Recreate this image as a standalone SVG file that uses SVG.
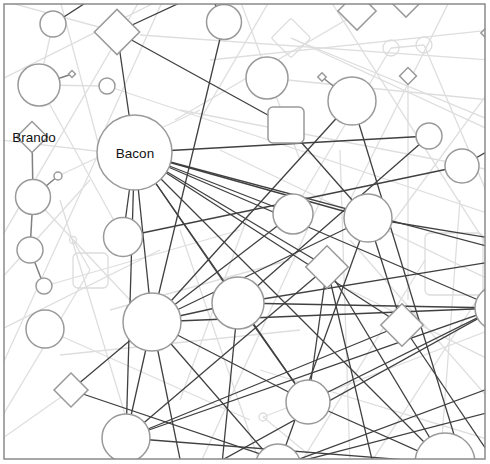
<svg xmlns="http://www.w3.org/2000/svg" width="490" height="464" viewBox="0 0 490 464">
<style>
.n{fill:#fff;stroke:#9a9a9a;stroke-width:1.5}
.ln{fill:none;stroke:#dcdcdc;stroke-width:1.3}
.d line{stroke:#404040;stroke-width:1.3}
.l line{stroke:#dedede;stroke-width:1.3}
.g line{stroke:#808080;stroke-width:1.5}
text{font-family:"Liberation Sans",Arial,sans-serif;font-size:13.5px;fill:#111;text-anchor:middle}
</style>
<defs>
<clipPath id="cp"><rect x="4" y="4" width="481" height="455"/></clipPath>
</defs>
<rect x="0" y="0" width="490" height="464" fill="#fff"/>
<g clip-path="url(#cp)">
<g id="light-connectors" class="l">
<line x1="53" y1="24" x2="39" y2="85"/>
<line x1="39" y1="85" x2="107" y2="86"/>
<line x1="107" y1="86" x2="490" y2="214"/>
<line x1="60" y1="0" x2="100" y2="150"/>
<line x1="163" y1="0" x2="97" y2="147"/>
<line x1="117" y1="32" x2="0" y2="0"/>
<line x1="140" y1="35" x2="490" y2="60"/>
<line x1="0" y1="80" x2="160" y2="0"/>
<line x1="39" y1="85" x2="123" y2="237"/>
<line x1="0" y1="140" x2="130" y2="155"/>
<line x1="240" y1="0" x2="300" y2="160"/>
<line x1="270" y1="0" x2="200" y2="120"/>
<line x1="291" y1="38" x2="490" y2="120"/>
<line x1="291" y1="38" x2="490" y2="130"/>
<line x1="267" y1="78" x2="490" y2="100"/>
<line x1="330" y1="0" x2="490" y2="250"/>
<line x1="391" y1="48" x2="424" y2="45"/>
<line x1="391" y1="48" x2="300" y2="200"/>
<line x1="424" y1="45" x2="490" y2="200"/>
<line x1="450" y1="0" x2="350" y2="200"/>
<line x1="408" y1="76" x2="408" y2="300"/>
<line x1="490" y1="90" x2="380" y2="240"/>
<line x1="175" y1="120" x2="380" y2="0"/>
<line x1="180" y1="110" x2="490" y2="170"/>
<line x1="210" y1="60" x2="490" y2="30"/>
<line x1="58" y1="176" x2="200" y2="110"/>
<line x1="33" y1="197" x2="130" y2="300"/>
<line x1="73" y1="240" x2="90" y2="270"/>
<line x1="0" y1="330" x2="160" y2="250"/>
<line x1="45" y1="286" x2="240" y2="230"/>
<line x1="90" y1="270" x2="0" y2="420"/>
<line x1="60" y1="200" x2="140" y2="464"/>
<line x1="110" y1="310" x2="290" y2="260"/>
<line x1="45" y1="329" x2="250" y2="420"/>
<line x1="71" y1="390" x2="0" y2="440"/>
<line x1="180" y1="230" x2="260" y2="464"/>
<line x1="250" y1="210" x2="180" y2="400"/>
<line x1="330" y1="180" x2="200" y2="464"/>
<line x1="263" y1="417" x2="490" y2="330"/>
<line x1="263" y1="417" x2="320" y2="464"/>
<line x1="60" y1="355" x2="300" y2="330"/>
<line x1="350" y1="240" x2="490" y2="400"/>
<line x1="425" y1="260" x2="300" y2="464"/>
<line x1="460" y1="200" x2="440" y2="464"/>
<line x1="490" y1="280" x2="370" y2="464"/>
<line x1="350" y1="290" x2="490" y2="360"/>
<line x1="260" y1="370" x2="490" y2="440"/>
<line x1="340" y1="150" x2="350" y2="464"/>
<line x1="220" y1="150" x2="490" y2="280"/>
<line x1="140" y1="0" x2="0" y2="240"/>
<line x1="0" y1="280" x2="90" y2="180"/>
<line x1="100" y1="150" x2="0" y2="370"/>
</g>
<g id="light-nodes">
<rect class="ln" x="277" y="24" width="28" height="28" rx="2" transform="rotate(45 291 38)"/>
<circle class="ln" cx="391" cy="48" r="8"/>
<circle class="ln" cx="424" cy="45" r="8"/>
<rect class="ln" x="73" y="253" width="35" height="35" rx="5"/>
<circle class="ln" cx="73" cy="240" r="3.5"/>
<rect class="ln" x="425" y="233" width="58" height="62" rx="5"/>
<circle class="ln" cx="263" cy="417" r="4"/>
</g>
<g id="connectors" class="d">
<line x1="53" y1="24" x2="90" y2="0"/>
<line x1="117" y1="32" x2="186" y2="0"/>
<line x1="117" y1="32" x2="134.5" y2="152.5"/>
<line x1="117" y1="32" x2="286" y2="125"/>
<line x1="224" y1="22" x2="152" y2="322"/>
<line x1="224" y1="22" x2="213" y2="0"/>
<line x1="134.5" y1="152.5" x2="429" y2="136"/>
<line x1="134.5" y1="152.5" x2="368" y2="218"/>
<line x1="134.5" y1="152.5" x2="293" y2="214"/>
<line x1="134.5" y1="152.5" x2="497" y2="308"/>
<line x1="134.5" y1="152.5" x2="327" y2="267"/>
<line x1="134.5" y1="152.5" x2="238" y2="303"/>
<line x1="134.5" y1="152.5" x2="402" y2="325"/>
<line x1="134.5" y1="152.5" x2="308" y2="402"/>
<line x1="134.5" y1="152.5" x2="445" y2="463"/>
<line x1="134.5" y1="152.5" x2="152" y2="322"/>
<line x1="134.5" y1="152.5" x2="126" y2="438"/>
<line x1="134.5" y1="152.5" x2="123" y2="237"/>
<line x1="134.5" y1="152.5" x2="490" y2="247"/>
<line x1="286" y1="125" x2="368" y2="218"/>
<line x1="352" y1="101" x2="152" y2="322"/>
<line x1="352" y1="101" x2="463" y2="464"/>
<line x1="462" y1="166" x2="123" y2="237"/>
<line x1="462" y1="166" x2="490" y2="150"/>
<line x1="368" y1="218" x2="490" y2="238"/>
<line x1="368" y1="218" x2="402" y2="325"/>
<line x1="368" y1="218" x2="278" y2="467"/>
<line x1="293" y1="214" x2="152" y2="322"/>
<line x1="152" y1="322" x2="368" y2="218"/>
<line x1="238" y1="303" x2="429" y2="136"/>
<line x1="238" y1="303" x2="490" y2="262"/>
<line x1="238" y1="303" x2="497" y2="308"/>
<line x1="238" y1="303" x2="308" y2="402"/>
<line x1="238" y1="303" x2="222" y2="464"/>
<line x1="152" y1="322" x2="497" y2="308"/>
<line x1="152" y1="322" x2="238" y2="303"/>
<line x1="152" y1="322" x2="308" y2="402"/>
<line x1="152" y1="322" x2="278" y2="467"/>
<line x1="152" y1="322" x2="181" y2="464"/>
<line x1="71" y1="390" x2="152" y2="322"/>
<line x1="71" y1="390" x2="290" y2="464"/>
<line x1="126" y1="438" x2="327" y2="267"/>
<line x1="126" y1="438" x2="497" y2="308"/>
<line x1="126" y1="438" x2="445" y2="463"/>
<line x1="126" y1="438" x2="152" y2="322"/>
<line x1="402" y1="325" x2="126" y2="438"/>
<line x1="308" y1="402" x2="497" y2="308"/>
<line x1="308" y1="402" x2="445" y2="463"/>
<line x1="327" y1="267" x2="308" y2="402"/>
<line x1="327" y1="267" x2="373" y2="464"/>
<line x1="497" y1="308" x2="215" y2="464"/>
<line x1="278" y1="467" x2="490" y2="412"/>
<line x1="278" y1="467" x2="490" y2="388"/>
<line x1="327" y1="267" x2="445" y2="463"/>
<line x1="402" y1="325" x2="490" y2="455"/>
</g>
<g id="stub-connectors" class="g">
<line x1="39" y1="85" x2="72" y2="74"/>
<line x1="352" y1="101" x2="322" y2="77"/>
<line x1="33" y1="197" x2="58" y2="176"/>
<line x1="32" y1="137" x2="33" y2="197"/>
<line x1="33" y1="197" x2="30" y2="250"/>
<line x1="30" y1="250" x2="44" y2="286"/>
</g>
<g id="n1"><circle class="n" cx="53" cy="24" r="13"/></g>
<g id="n2"><rect class="n" x="101" y="16" width="32" height="32" transform="rotate(45 117 32)"/></g>
<g id="n3"><circle class="n" cx="224" cy="22" r="17.5"/></g>
<g id="n4"><circle class="n" cx="39" cy="85" r="21"/></g>
<g id="n4s"><rect class="n" x="69.5" y="71.5" width="5" height="5" transform="rotate(45 72 74)"/></g>
<g id="n5"><circle class="n" cx="107" cy="86" r="8"/></g>
<g id="brando"><rect class="n" x="21" y="126" width="22" height="22" transform="rotate(45 32 137)"/><text x="34" y="142">Brando</text></g>
<g id="bacon"><circle class="n" cx="134.5" cy="152.5" r="37.5"/><text x="135" y="158">Bacon</text></g>
<g id="n6"><circle class="n" cx="267" cy="78" r="21"/></g>
<g id="n7"><rect class="n" x="268" y="107" width="36" height="36" rx="5"/></g>
<g id="n8"><circle class="n" cx="352" cy="101" r="24"/></g>
<g id="n8s"><rect class="n" x="319" y="74" width="6" height="6" transform="rotate(45 322 77)"/></g>
<g id="n9"><rect class="n" x="402" y="70" width="12" height="12" transform="rotate(45 408 76)"/></g>
<g id="n10"><circle class="n" cx="429" cy="136" r="13"/></g>
<g id="n11"><rect class="n" x="343.5" y="-2.5" width="27" height="27" transform="rotate(45 357 11)"/></g>
<g id="n12"><rect class="n" x="396" y="-7" width="20" height="20" transform="rotate(45 406 3)"/></g>
<g id="n12b"><rect class="n" x="485" y="23" width="20" height="20" transform="rotate(45 495 33)"/></g>
<g id="n13"><circle class="n" cx="462" cy="166" r="17"/></g>
<g id="n14"><circle class="n" cx="33" cy="197" r="17.5"/></g>
<g id="n14s"><circle class="n" cx="58" cy="176" r="4"/></g>
<g id="n15"><circle class="n" cx="30" cy="250" r="13"/></g>
<g id="n16"><circle class="n" cx="44" cy="286" r="8"/></g>
<g id="n17"><circle class="n" cx="123" cy="237" r="19.5"/></g>
<g id="n18"><circle class="n" cx="293" cy="214" r="20"/></g>
<g id="n19"><circle class="n" cx="368" cy="218" r="24"/></g>
<g id="n20"><rect class="n" x="312" y="252" width="30" height="30" transform="rotate(45 327 267)"/></g>
<g id="n21"><circle class="n" cx="238" cy="303" r="26"/></g>
<g id="n22"><circle class="n" cx="152" cy="322" r="29"/></g>
<g id="n23"><circle class="n" cx="45" cy="329" r="19"/></g>
<g id="n24"><rect class="n" x="59" y="378" width="24" height="24" transform="rotate(45 71 390)"/></g>
<g id="n25"><circle class="n" cx="126" cy="438" r="24"/></g>
<g id="n26"><rect class="n" x="387" y="310" width="30" height="30" transform="rotate(45 402 325)"/></g>
<g id="n27"><circle class="n" cx="308" cy="402" r="22"/></g>
<g id="n28"><circle class="n" cx="445" cy="463" r="30"/></g>
<g id="n29"><circle class="n" cx="278" cy="467" r="23"/></g>
<g id="n30"><circle class="n" cx="497" cy="308" r="22"/></g>
</g>
<rect x="4" y="4" width="481" height="455" fill="none" stroke="#8a8a8a" stroke-width="1.5"/>
</svg>
